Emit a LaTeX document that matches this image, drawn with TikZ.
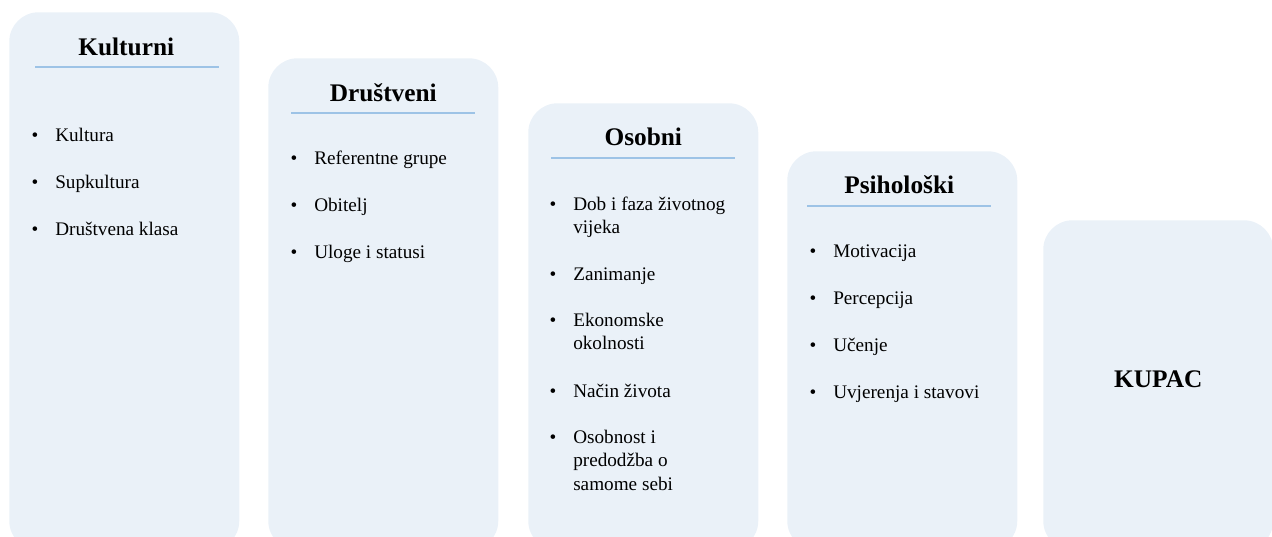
\documentclass[tikz,border=0pt]{standalone}
\usepackage{fontspec}
\setmainfont{Liberation Serif}
\usetikzlibrary{calc, positioning}
\definecolor{boxfill}{HTML}{EAF1F8}
\definecolor{rulecol}{HTML}{9DC3E6}

\begin{document}
\begin{tikzpicture}
        [x=0.75pt, y=-0.75pt,
         boxsty/.style={rectangle,
                        rounded corners=22pt,
                        inner sep=0pt,
                        minimum width=172.5pt,
                        fill=boxfill,
                        anchor=north west},
         titlesty/.style={anchor=base,
                          inner sep=0pt,
                          font=\fontsize{19}{23}\selectfont\bfseries},
         bulletsty/.style={anchor=base,
                           inner sep=0pt,
                           font=\fontsize{14.4}{17.6}\selectfont},
         itemsty/.style={anchor=base west,
                         inner sep=0pt,
                         align=left,
                         font=\fontsize{14.4}{17.6}\selectfont},
         rulesty/.style={draw=rulecol, line width=0.8pt}]

        \useasboundingbox (0,0) rectangle (1272,536);
        \newcommand{\rulehalf}{92}

        % the five boxes, each one lower than the last
        \node[boxsty, minimum height=403.5pt] (kult box) at (9,12) {};
        \node[boxsty, minimum height=369pt] (drus box) at (268,58) {};
        \node[boxsty, minimum height=335.25pt] (osob box) at (528,103) {};
        \node[boxsty, minimum height=299.25pt] (psih box) at (787,151) {};
        \node[boxsty, minimum height=247.5pt] (kupac box) at (1043,220) {};

        % titles and rules
        \node[titlesty] (kult title) at ($(kult box.north) + (2, 43)$) {Kulturni};
        \node[titlesty] (drus title) at ($(drus box.north) + (0, 43)$) {Društveni};
        \node[titlesty] (osob title) at ($(osob box.north) + (0, 42)$) {Osobni};
        \node[titlesty] (psih title) at ($(psih box.north) + (-3, 42)$) {Psihološki};
        \node[titlesty] (kupac) at ($(kupac box.north) + (0, 167)$) {KUPAC};

        \foreach \b/\dx in {kult/3, drus/0, osob/0, psih/-3} {
                \coordinate (\b\space rule west) at ($(\b\space box.north) + (\dx-\rulehalf, 55)$);
                \coordinate (\b\space rule east) at ($(\b\space box.north) + (\dx+\rulehalf, 55)$);
                \draw[rulesty] (\b\space rule west) -- (\b\space rule east);
        }

        % bullet lists
        \foreach \yy/\txt [count=\i] in {141/Kultura, 188/Supkultura, 235/{Društvena klasa}} {
                \node[bulletsty] (kult bullet \i) at (35, \yy) {\textbullet};
                \node[itemsty] (kult item \i) at (55, \yy) {\txt};
        }

        \foreach \yy/\txt [count=\i] in {164/{Referentne grupe}, 211/Obitelj, 258/{Uloge i statusi}} {
                \node[bulletsty] (drus bullet \i) at (294, \yy) {\textbullet};
                \node[itemsty] (drus item \i) at (314, \yy) {\txt};
        }

        % base of a wrapped item is its last line, so give both
        \foreach \yy/\ly/\txt [count=\i] in {210/233.5/{Dob i faza životnog\\vijeka}, 280/280/Zanimanje,
                                              326/349.5/{Ekonomske\\okolnosti}, 397/397/{Način života},
                                              443/490/{Osobnost i\\predodžba o\\samome sebi}} {
                \node[bulletsty] (osob bullet \i) at (553, \yy) {\textbullet};
                \node[itemsty] (osob item \i) at (573, \ly) {\txt};
        }

        \foreach \yy/\txt [count=\i] in {257/Motivacija, 304/Percepcija, 351/Učenje, 398/{Uvjerenja i stavovi}} {
                \node[bulletsty] (psih bullet \i) at (813, \yy) {\textbullet};
                \node[itemsty] (psih item \i) at (833, \yy) {\txt};
        }
\end{tikzpicture}
\end{document}
